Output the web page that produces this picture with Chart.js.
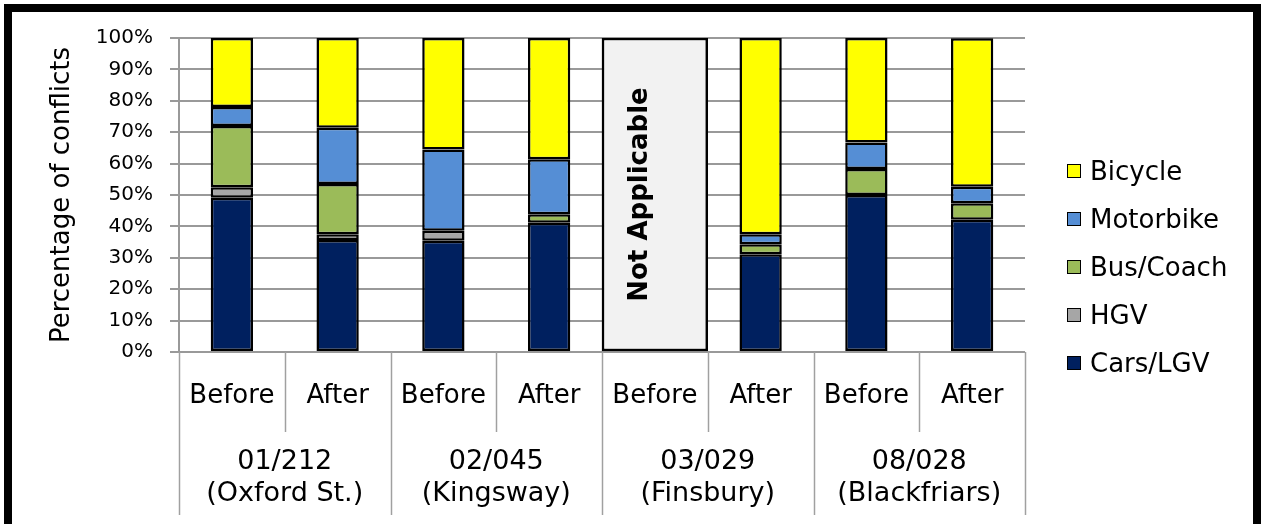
<!DOCTYPE html>
<html>
<head>
<meta charset="utf-8">
<script src="https://cdn.jsdelivr.net/npm/chart.js@4/dist/chart.umd.min.js"></script>
<style>
  html, body { margin: 0; padding: 0; background: #fff; overflow: hidden; width: 1261px; height: 524px; }
  #frame { position: absolute; left: 4px; top: 4px; width: 1257px; height: 600px; box-sizing: border-box;
           border-left: 8px solid #000; border-top: 8px solid #000; border-right: 8px solid #000; }
  #c { position: absolute; left: 0; top: 0; }
  #legend { position: absolute; left: 1067px; top: 0; font-family: "DejaVu Sans", sans-serif; font-size: 26px; color: #000; }
  .li { position: absolute; left: 0; white-space: nowrap; height: 30px; line-height: 30px; }
  .sw { position: absolute; left: 0; top: 7px; width: 12px; height: 12px; border: 1.5px solid #000; }
  .lt { position: absolute; left: 23px; top: -1px; }
</style>
</head>
<body>
<div id="frame"></div>
<canvas id="c" width="1261" height="524"></canvas>
<div id="legend"></div>
<script>
// ---- data ----
const subLabels = ["Before", "After", "Before", "After", "Before", "After", "Before", "After"];
const groupLabels = [["01/212", "(Oxford St.)"], ["02/045", "(Kingsway)"], ["03/029", "(Finsbury)"], ["08/028", "(Blackfriars)"]];
const yTicks = [0, 10, 20, 30, 40, 50, 60, 70, 80, 90, 100];
const carsLGV   = [49.1, 35.7, 35.4, 41.2, null, 31.1, 50.0, 42.1];
const hgv       = [3.4, 1.8, 3.2, 0, null, 0, 0, 0];
const busCoach  = [19.5, 16.0, 0, 2.7, null, 3.2, 8.3, 5.3];
const motorbike = [6.0, 17.9, 25.9, 17.5, null, 3.2, 8.4, 5.2];
const bicycle   = [22.0, 28.6, 35.5, 38.6, null, 62.5, 33.3, 47.3];
const notApplicable = [null, null, null, null, 100, null, null, null];
const naText = "Not Applicable";

const FONT = "DejaVu Sans";
const clean = arr => arr.map(v => (v === 0 ? null : v));

const series = [
  { label: "Cars/LGV",  data: carsLGV,   color: "#00205F" },
  { label: "HGV",       data: hgv,       color: "#A6A6A6" },
  { label: "Bus/Coach", data: busCoach,  color: "#9BBB59" },
  { label: "Motorbike", data: motorbike, color: "#558ED5" },
  { label: "Bicycle",   data: bicycle,   color: "#FFFF00" }
];

const datasets = series.map(s => ({
  label: s.label,
  data: clean(s.data),
  backgroundColor: s.color,
  borderColor: "#000",
  borderWidth: 2.5,
  borderSkipped: false,
  stack: "main",
  grouped: false,
  barPercentage: 0.4,
  categoryPercentage: 1.0
}));
datasets.push({
  label: naText,
  data: notApplicable,
  backgroundColor: "#F2F2F2",
  borderColor: "#000",
  borderWidth: 2.5,
  borderSkipped: false,
  stack: "na",
  grouped: false,
  barPercentage: 1.0,
  categoryPercentage: 1.0
});

const dividerPlugin = {
  id: "dividers",
  afterDraw(chart) {
    const x = chart.scales.x, x2 = chart.scales.x2;
    const ctx = chart.ctx;
    const slot = x.getPixelForValue(1) - x.getPixelForValue(0);
    const start = x.getPixelForValue(0) - slot / 2;
    ctx.save();
    ctx.strokeStyle = "#A0A0A0";
    ctx.lineWidth = 1.5;
    for (let i = 0; i <= subLabels.length; i++) {
      const px = Math.round(start + i * slot) + 0.5;
      const yEnd = (i % 2 === 0) ? x2.bottom : x.bottom;
      ctx.beginPath();
      ctx.moveTo(px, chart.chartArea.bottom);
      ctx.lineTo(px, yEnd);
      ctx.stroke();
    }
    ctx.restore();
  }
};

const naTextPlugin = {
  id: "naText",
  afterDatasetsDraw(chart) {
    const idx = chart.data.datasets.findIndex(d => d.label === naText);
    const meta = chart.getDatasetMeta(idx);
    const catIdx = notApplicable.findIndex(v => v !== null);
    const el = meta.data[catIdx];
    if (!el) return;
    const ctx = chart.ctx;
    ctx.save();
    ctx.translate(el.x - 15, (el.y + el.base) / 2);
    ctx.rotate(-Math.PI / 2);
    ctx.font = "bold 26px '" + FONT + "'";
    ctx.fillStyle = "#000";
    ctx.textAlign = "center";
    ctx.textBaseline = "middle";
    ctx.fillText(naText, 0, 0);
    ctx.restore();
  }
};

const chart = new Chart(document.getElementById("c"), {
  type: "bar",
  data: { labels: subLabels, datasets },
  options: {
    responsive: false,
    animation: false,
    events: [],
    layout: { padding: { left: 0, top: 38, right: 236, bottom: 9 } },
    plugins: { legend: { display: false }, tooltip: { enabled: false } },
    scales: {
      x: {
        type: "category",
        stacked: true,
        weight: 0,
        offset: true,
        grid: { display: false, drawOnChartArea: false, drawTicks: false },
        border: { display: false },
        ticks: { color: "#000", font: { family: FONT, size: 26 }, padding: 29, maxRotation: 0, autoSkip: false },
        afterFit: s => { s.height = 80; }
      },
      x2: {
        type: "category",
        position: "bottom",
        weight: 1,
        labels: groupLabels,
        offset: true,
        grid: { display: false, drawOnChartArea: false, drawTicks: false },
        border: { display: false },
        ticks: { color: "#000", font: { family: FONT, size: 27, lineHeight: 1.18 }, padding: 14, maxRotation: 0, autoSkip: false },
        afterFit: s => { s.height = 83; }
      },
      y: {
        stacked: true,
        min: 0,
        max: 100,
        afterBuildTicks: s => { s.ticks = yTicks.map(v => ({ value: v })); },
        grid: { color: "#999999", lineWidth: 2, drawTicks: true, tickLength: 9 },
        border: { display: true, color: "#999999", width: 2 },
        ticks: { color: "#000", font: { family: FONT, size: 20 }, padding: 17, callback: v => v + "%" },
        title: { display: true, text: "Percentage of conflicts", color: "#000",
                 font: { family: FONT, size: 26 }, padding: { top: 47, bottom: 0 } },
        afterFit: s => { s.width = 179; }
      }
    }
  },
  plugins: [dividerPlugin, naTextPlugin]
});

// HTML legend (reversed order, Bicycle on top)
const legendEl = document.getElementById("legend");
const rowCenters = [172, 220, 268, 316, 364];
series.slice().reverse().forEach((s, i) => {
  const row = document.createElement("div");
  row.className = "li";
  row.style.top = (rowCenters[i] - 15) + "px";
  row.innerHTML = '<span class="sw" style="background:' + s.color + '"></span><span class="lt"></span>';
  row.querySelector(".lt").textContent = s.label;
  legendEl.appendChild(row);
});
</script>
</body>
</html>
